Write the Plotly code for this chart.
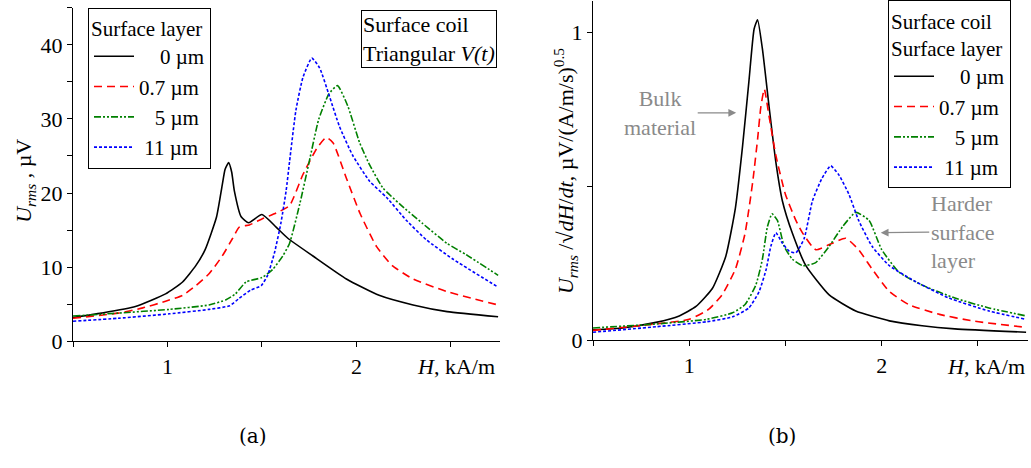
import plotly.graph_objects as go

# ---------------- data: panel (a) ----------------
H_a0 = [0.5, 0.65, 0.83, 0.99, 1.08, 1.15, 1.20, 1.26, 1.29, 1.305, 1.324, 1.34, 1.354, 1.39, 1.43, 1.50, 1.575, 1.637, 1.77, 1.947, 2.12, 2.30, 2.48, 2.75]
U_a0 = [3.2, 3.8, 4.7, 6.4, 8.0, 10.2, 12.4, 16.8, 21.1, 23.2, 24.1, 22.8, 20.3, 16.8, 16.0, 17.1, 15.4, 13.9, 11.5, 8.4, 6.2, 4.9, 4.0, 3.3]

H_a07 = [0.5, 0.74, 0.87, 0.99, 1.08, 1.15, 1.22, 1.29, 1.345, 1.38, 1.434, 1.50, 1.575, 1.646, 1.717, 1.79, 1.84, 1.876, 1.947, 2.02, 2.106, 2.19, 2.30, 2.48, 2.75]
U_a07 = [3.1, 3.8, 4.5, 5.4, 6.2, 7.5, 9.1, 11.5, 13.9, 15.4, 15.7, 16.5, 17.3, 18.3, 22.5, 26.0, 27.5, 26.8, 22.0, 17.2, 12.8, 10.2, 8.4, 6.7, 4.9]

H_a5 = [0.5, 0.74, 1.01, 1.22, 1.31, 1.36, 1.416, 1.50, 1.557, 1.61, 1.646, 1.70, 1.75, 1.80, 1.855, 1.90, 1.955, 2.017, 2.07, 2.14, 2.23, 2.35, 2.48, 2.58, 2.75]
U_a5 = [3.4, 3.8, 4.3, 4.9, 5.6, 6.4, 8.0, 8.6, 9.7, 11.5, 13.2, 18.5, 24.2, 29.9, 33.4, 34.5, 31.7, 26.8, 23.8, 20.7, 18.5, 15.9, 13.2, 11.7, 8.9]

H_a11 = [0.5, 0.74, 1.01, 1.22, 1.33, 1.38, 1.44, 1.496, 1.53, 1.566, 1.60, 1.628, 1.646, 1.68, 1.717, 1.764, 1.805, 1.858, 1.91, 1.98, 2.07, 2.16, 2.265, 2.37, 2.51, 2.75]
U_a11 = [2.7, 3.1, 3.7, 4.3, 4.8, 5.8, 6.9, 7.5, 8.9, 11.9, 15.9, 20.3, 24.2, 31.2, 35.6, 38.2, 36.9, 33.0, 29.0, 25.1, 21.6, 19.4, 16.3, 13.7, 11.1, 7.3]

# ---------------- data: panel (b) ----------------
H_b0 = [0.5, 0.654, 0.827, 0.948, 1.035, 1.12, 1.19, 1.24, 1.277, 1.31, 1.337, 1.355, 1.38, 1.415, 1.45, 1.484, 1.536, 1.606, 1.727, 1.865, 2.04, 2.21, 2.38, 2.75]
V_b0 = [0.034, 0.040, 0.058, 0.079, 0.110, 0.168, 0.273, 0.43, 0.63, 0.84, 1.01, 1.04, 0.946, 0.757, 0.578, 0.452, 0.347, 0.242, 0.147, 0.095, 0.063, 0.047, 0.037, 0.026]

H_b07 = [0.5, 0.827, 1.0, 1.10, 1.17, 1.24, 1.29, 1.33, 1.355, 1.372, 1.39, 1.415, 1.45, 1.50, 1.554, 1.59, 1.657, 1.744, 1.813, 1.88, 1.95, 2.04, 2.14, 2.30, 2.47, 2.75]
V_b07 = [0.032, 0.053, 0.068, 0.10, 0.147, 0.231, 0.347, 0.515, 0.652, 0.757, 0.815, 0.726, 0.60, 0.473, 0.389, 0.347, 0.294, 0.315, 0.331, 0.294, 0.231, 0.158, 0.116, 0.084, 0.063, 0.042]

H_b5 = [0.5, 0.83, 1.09, 1.225, 1.29, 1.346, 1.38, 1.406, 1.43, 1.458, 1.493, 1.536, 1.59, 1.657, 1.727, 1.796, 1.865, 1.934, 2.0, 2.09, 2.21, 2.38, 2.557, 2.75]
V_b5 = [0.040, 0.053, 0.068, 0.089, 0.116, 0.179, 0.263, 0.368, 0.41, 0.389, 0.305, 0.263, 0.242, 0.252, 0.305, 0.368, 0.415, 0.389, 0.294, 0.221, 0.179, 0.137, 0.105, 0.079]

H_b11 = [0.5, 0.83, 1.09, 1.225, 1.31, 1.363, 1.40, 1.424, 1.45, 1.484, 1.52, 1.554, 1.597, 1.64, 1.69, 1.735, 1.778, 1.83, 1.88, 1.95, 2.04, 2.18, 2.35, 2.557, 2.75]
V_b11 = [0.026, 0.044, 0.060, 0.076, 0.105, 0.158, 0.231, 0.305, 0.349, 0.315, 0.289, 0.284, 0.33, 0.452, 0.526, 0.566, 0.536, 0.473, 0.389, 0.305, 0.242, 0.189, 0.137, 0.095, 0.068]

series_labels = ["\u00a0\u00a0\u00a0\u00a00 µm", "0.7 µm", "\u00a0\u00a0\u00a05 µm", "\u00a011 µm"]

x_tickvals = [1, 2]
ya_tickvals = [0, 10, 20, 30, 40]
yb_tickvals = [0, 1]

FONT = "Liberation Serif, Times New Roman, Times, serif"
styles = [
    dict(color="black", width=1.6, dash="solid"),
    dict(color="#ff0000", width=1.6, dash="8px,5px"),
    dict(color="#008000", width=1.6, dash="7px,2px,2px,2px,2px,2px"),
    dict(color="#0000ff", width=1.6, dash="3px,2px"),
]

fig = go.Figure()
data_a = [(H_a0, U_a0), (H_a07, U_a07), (H_a5, U_a5), (H_a11, U_a11)]
data_b = [(H_b0, V_b0), (H_b07, V_b07), (H_b5, V_b5), (H_b11, V_b11)]
for (hx, uy), st, lab in zip(data_a, styles, series_labels):
    fig.add_trace(go.Scatter(x=hx, y=uy, mode="lines", name=lab, line=dict(shape="spline", smoothing=0.5, **st),
                             xaxis="x", yaxis="y", legend="legend"))
for (hx, vy), st, lab in zip(data_b, styles, series_labels):
    fig.add_trace(go.Scatter(x=hx, y=vy, mode="lines", name=lab, line=dict(shape="spline", smoothing=0.5, **st),
                             xaxis="x2", yaxis="y2", legend="legend2"))

W, Hh = 1031, 468
def px(x):
    return x / W
def py(y):
    return 1 - y / Hh

axis_common = dict(showline=True, linecolor="black", linewidth=1, showgrid=False, zeroline=False,
                   ticks="outside", ticklen=5, tickcolor="black", tickwidth=1,
                   tickfont=dict(family=FONT, size=22, color="black"))

def minor(d):
    return dict(tickmode="linear", tick0=0, dtick=d, ticks="outside", ticklen=5, tickcolor="black",
                tickwidth=1, showgrid=False)

LEG = 21
legend_common = dict(bordercolor="black", borderwidth=1, bgcolor="white",
                     font=dict(family=FONT, size=LEG, color="black"),
                     xanchor="left", yanchor="top", tracegroupgap=0, itemwidth=40)

fig.update_layout(
    width=W, height=Hh,
    margin=dict(l=0, r=0, t=0, b=0),
    paper_bgcolor="white", plot_bgcolor="white",
    font=dict(family=FONT),
    xaxis=dict(domain=[px(73), px(500)], range=[0.5, 2.76], anchor="y",
               tickmode="array", tickvals=x_tickvals, minor=minor(0.5), **axis_common),
    yaxis=dict(domain=[py(351), py(8)], range=[0, 45], anchor="x",
               tickmode="array", tickvals=ya_tickvals, minor=minor(5), **axis_common),
    xaxis2=dict(domain=[px(593), px(1028)], range=[0.5, 2.76], anchor="y2",
                tickmode="array", tickvals=x_tickvals, minor=minor(0.5), **axis_common),
    yaxis2=dict(domain=[py(350), py(1.3)], range=[0, 1.1], anchor="x2",
                tickmode="array", tickvals=yb_tickvals, minor=minor(0.5), **axis_common),
    legend=dict(x=px(88), y=py(8), title=dict(text="Surface layer", font=dict(family=FONT, size=LEG)),
                **legend_common),
    legend2=dict(x=px(888), y=py(0.5), title=dict(text="Surface coil<br>Surface layer", font=dict(family=FONT, size=LEG)),
                 **legend_common),
)

ann_font = dict(family=FONT, size=22, color="black")
gray_font = dict(family=FONT, size=22, color="#8a8a8a")
annotations = [
    dict(text="Surface coil<br>Triangular <i>V(t)</i>", xref="paper", yref="paper", x=px(497), y=py(10),
         xanchor="right", yanchor="top", align="left", showarrow=False, font=ann_font,
         bordercolor="black", borderwidth=1, borderpad=1, bgcolor="white"),
    dict(text="<i>H</i>, kA/m", xref="paper", yref="paper", x=px(497), y=py(377), xanchor="right", yanchor="middle",
         showarrow=False, font=ann_font),
    dict(text="<i>H</i>, kA/m", xref="paper", yref="paper", x=px(1027), y=py(377), xanchor="right", yanchor="middle",
         showarrow=False, font=ann_font),
    dict(text="<i>U</i><sub><i>rms</i></sub> , µV", xref="paper", yref="paper", x=px(25), y=py(186),
         xanchor="center", yanchor="middle", textangle=-90, showarrow=False, font=ann_font),
    dict(text="<i>U</i><sub><i>rms</i></sub> /√<i>dH</i>/<i>dt</i>, µV/(A/m/s)<sup>0.5</sup>", xref="paper", yref="paper",
         x=px(565), y=py(176), xanchor="center", yanchor="middle", textangle=-90, showarrow=False, font=ann_font),
    dict(text="(a)", xref="paper", yref="paper", x=px(253), y=py(448), xanchor="center", yanchor="middle",
         showarrow=False, font=dict(family="DejaVu Serif", size=20, color="black")),
    dict(text="(b)", xref="paper", yref="paper", x=px(782), y=py(448), xanchor="center", yanchor="middle",
         showarrow=False, font=dict(family="DejaVu Serif", size=20, color="black")),
    dict(text="Bulk<br>material", xref="x2", yref="y2", x=1.244, y=0.738, ax=-76, ay=0,
         showarrow=True, arrowhead=2, arrowsize=1.2, arrowwidth=1.3, arrowcolor="#8a8a8a",
         font=gray_font, align="center"),
    dict(text="Harder<br>surface<br>layer", xref="x2", yref="y2", x=1.995, y=0.349, ax=82, ay=-1,
         showarrow=True, arrowhead=2, arrowsize=1.2, arrowwidth=1.3, arrowcolor="#8a8a8a",
         font=gray_font, align="left"),
]
fig.update_layout(annotations=annotations)

fig.write_html("out.html")
